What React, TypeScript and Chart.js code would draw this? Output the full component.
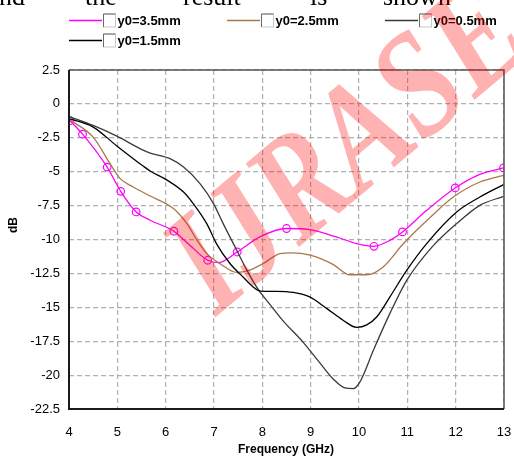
import React, { useEffect, useRef } from 'react';
import { Chart, registerables } from 'chart.js';

Chart.register(...registerables);

// ---- data (frequency in GHz, value in dB) ----
const seriesLabels = ['y0=3.5mm', 'y0=2.5mm', 'y0=0.5mm', 'y0=1.5mm'];

const freq35 = [4.02, 4.28, 4.79, 5.07, 5.39, 5.68, 6.17, 6.5, 6.87, 7.1, 7.48, 7.95, 8.5, 8.98, 9.53, 9.95, 10.31, 10.64, 10.9, 11.4, 11.99, 12.5, 12.99];
const db35 = [-1.24, -2.23, -4.66, -6.45, -7.97, -8.58, -9.39, -10.42, -11.53, -11.7, -10.92, -9.81, -9.19, -9.27, -9.81, -10.3, -10.5, -10.06, -9.44, -7.85, -6.2, -5.2, -4.72];
const marker35 = [1, 1, 1, 1, 1, 0, 1, 0, 1, 0, 1, 0, 1, 0, 0, 0, 1, 0, 1, 0, 1, 0, 1];

const freq25 = [4.02, 4.5, 4.85, 5.06, 5.33, 5.68, 6.16, 6.44, 6.65, 6.85, 7.12, 7.47, 7.74, 8.02, 8.37, 8.6, 8.99, 9.47, 9.81, 10.16, 10.5, 10.92, 11.47, 11.95, 12.5, 12.99];
const db25 = [-1.17, -2.45, -4.41, -5.51, -6.13, -6.79, -7.72, -8.83, -10.06, -11.04, -11.77, -12.43, -12.26, -11.77, -11.04, -10.99, -11.16, -11.85, -12.6, -12.6, -12.02, -10.3, -8.38, -6.87, -5.76, -5.27];

const freq05 = [4.02, 4.5, 4.99, 5.5, 5.68, 6.09, 6.37, 6.71, 6.99, 7.19, 7.47, 7.68, 7.88, 7.95, 8.16, 8.43, 8.85, 9.19, 9.47, 9.71, 9.88, 10.02, 10.3, 10.64, 10.99, 11.5, 12.02, 12.5, 12.99];
const db05 = [-0.95, -1.59, -2.38, -3.35, -3.63, -4.04, -4.66, -5.88, -7.35, -8.83, -10.79, -12.26, -13.5, -13.86, -14.8, -16.0, -17.6, -19.1, -20.3, -20.95, -21.0, -20.5, -18.15, -15.45, -13.0, -10.6, -8.83, -7.48, -6.82];

const freq15 = [4.02, 4.5, 4.99, 5.54, 5.68, 6.02, 6.37, 6.57, 6.85, 7.05, 7.33, 7.6, 7.81, 7.95, 8.3, 8.64, 8.98, 9.33, 9.67, 9.95, 10.16, 10.37, 10.64, 10.99, 11.4, 12.02, 12.5, 12.99];
const db15 = [-1.1, -1.71, -3.1, -4.6, -4.95, -5.6, -6.5, -7.35, -8.83, -10.3, -11.77, -12.76, -13.5, -13.8, -13.82, -13.9, -14.23, -15.08, -15.95, -16.48, -16.3, -15.7, -14.23, -12.26, -10.3, -7.97, -6.87, -5.95];

const xMin = 4, xMax = 13, xStep = 1;
const yMin = -22.5, yMax = 2.5, yStep = 2.5;

const xTitle = 'Frequency (GHz)';
const yTitle = 'dB';
const topWords = ['and', 'the', 'result', 'is', 'shown'];
const watermark = 'IJRASET';

const colors = ['#ff00ff', '#a8784a', '#3a3a3a', '#000000'];

const SANS = "'Liberation Sans', Arial, sans-serif";
const SERIF = "'Liberation Serif', 'Times New Roman', serif";

function pts(f: number[], v: number[]) {
  return f.map((x, i) => ({ x, y: v[i] }));
}

const decor = {
  id: 'decor',
  afterDatasetsDraw(chart: any) {
    const { ctx, chartArea: a } = chart;
    ctx.save();
    ctx.strokeStyle = '#555';
    ctx.lineWidth = 1.5;
    ctx.beginPath();
    ctx.moveTo(a.left, a.top);
    ctx.lineTo(a.right, a.top);
    ctx.lineTo(a.right, a.bottom);
    ctx.stroke();
    ctx.strokeStyle = '#1a1a1a';
    ctx.lineWidth = 2;
    ctx.beginPath();
    ctx.moveTo(a.left, a.top);
    ctx.lineTo(a.left, a.bottom);
    ctx.lineTo(a.right, a.bottom);
    ctx.stroke();
    ctx.restore();
  },
  afterDraw(chart: any) {
    const { ctx } = chart;
    ctx.save();
    ctx.fillStyle = '#000';
    ctx.font = `26px ${SERIF}`;
    ctx.textBaseline = 'alphabetic';
    const wordX = [25, 85, 183, 310, 383];
    topWords.forEach((w, i) => {
      ctx.textAlign = i === 0 ? 'right' : 'left';
      ctx.fillText(w, wordX[i], 4.5);
    });

    const items = [
      { x: 69, y: 20.5, c: colors[0], t: seriesLabels[0] },
      { x: 227, y: 20.5, c: colors[1], t: seriesLabels[1] },
      { x: 385, y: 20.5, c: colors[2], t: seriesLabels[2] },
      { x: 69, y: 40.5, c: colors[3], t: seriesLabels[3] },
    ];
    ctx.textAlign = 'left';
    ctx.textBaseline = 'middle';
    ctx.font = `bold 13px ${SANS}`;
    items.forEach((it) => {
      ctx.strokeStyle = it.c;
      ctx.lineWidth = 1.5;
      ctx.beginPath();
      ctx.moveTo(it.x, it.y);
      ctx.lineTo(it.x + 33, it.y);
      ctx.stroke();
      const bx = it.x + 34.5, by = it.y - 6.5;
      ctx.fillStyle = '#fff';
      ctx.fillRect(bx, by, 12, 13);
      ctx.strokeStyle = '#c8c8c8';
      ctx.lineWidth = 1;
      ctx.strokeRect(bx, by, 12, 13);
      ctx.strokeStyle = '#6a6a6a';
      ctx.beginPath();
      ctx.moveTo(bx, by + 13);
      ctx.lineTo(bx, by);
      ctx.lineTo(bx + 12, by);
      ctx.stroke();
      ctx.fillStyle = '#000';
      ctx.fillText(it.t, it.x + 48.5, it.y + 0.5);
    });

    ctx.font = `bold 12px ${SANS}`;
    ctx.textAlign = 'center';
    ctx.fillText(xTitle, 286, 450);
    ctx.save();
    ctx.translate(14, 225);
    ctx.rotate(-Math.PI / 2);
    ctx.fillText(yTitle, 0, 0);
    ctx.restore();

    // watermark overlay
    const fs = 150;
    ctx.font = `italic bold ${fs}px ${SERIF}`;
    ctx.fillStyle = 'rgba(255,0,0,0.3)';
    ctx.textAlign = 'left';
    ctx.textBaseline = 'alphabetic';
    ctx.translate(203, 263);
    ctx.rotate((-40 * Math.PI) / 180);
    ctx.scale(0.81, 1);
    ctx.fillText(watermark, -0.2 * fs, 0.33 * fs);
    ctx.restore();
  },
};

export default function App() {
  const ref = useRef<HTMLCanvasElement>(null);
  useEffect(() => {
    const canvas = ref.current;
    if (!canvas) return;
    const mk = (i: number, f: number[], v: number[], extra: any = {}) => ({
      label: seriesLabels[i],
      data: pts(f, v),
      borderColor: colors[i],
      backgroundColor: colors[i],
      borderWidth: 1.3,
      pointRadius: 0,
      cubicInterpolationMode: 'monotone',
      ...extra,
    });
    const chart = new Chart(canvas, {
      type: 'line',
      data: {
        datasets: [
          mk(3, freq15, db15),
          mk(2, freq05, db05),
          mk(1, freq25, db25),
          mk(0, freq35, db35, {
            pointRadius: marker35.map((m) => (m ? 3.8 : 0)),
            pointBorderColor: colors[0],
            pointBackgroundColor: 'rgba(255,255,255,0)',
            pointBorderWidth: 1.2,
          }),
        ],
      },
      options: {
        responsive: false,
        animation: false,
        devicePixelRatio: 1,
        layout: { padding: { top: 70, right: 10, left: 0, bottom: 0 } },
        plugins: { legend: { display: false }, tooltip: { enabled: false } },
        scales: {
          x: {
            type: 'linear',
            min: xMin,
            max: xMax,
            afterFit: (s: any) => { s.height = 50; s.paddingLeft = 0; s.paddingRight = 0; },
            ticks: { stepSize: xStep, padding: 16, color: '#000', font: { family: SANS, size: 13 } },
            grid: { color: '#b0b0b0', lineWidth: 1.2, drawTicks: false },
            border: { display: false, dash: [5, 3] },
          },
          y: {
            type: 'linear',
            min: yMin,
            max: yMax,
            afterFit: (s: any) => { s.width = 69; s.paddingTop = 0; s.paddingBottom = 0; },
            ticks: {
              stepSize: yStep,
              padding: 9,
              color: '#000',
              font: { family: SANS, size: 13 },
              callback: (v: any) => String(v),
            },
            grid: { color: '#b0b0b0', lineWidth: 1.2, drawTicks: false },
            border: { display: false, dash: [5, 3] },
          },
        },
      },
      plugins: [decor],
    } as any);
    return () => chart.destroy();
  }, []);
  return (
    <div style={{ position: 'fixed', left: 0, top: 0, width: 514, height: 459, background: '#fff' }}>
      <canvas ref={ref} width={514} height={459} style={{ width: 514, height: 459, display: 'block' }} />
    </div>
  );
}
